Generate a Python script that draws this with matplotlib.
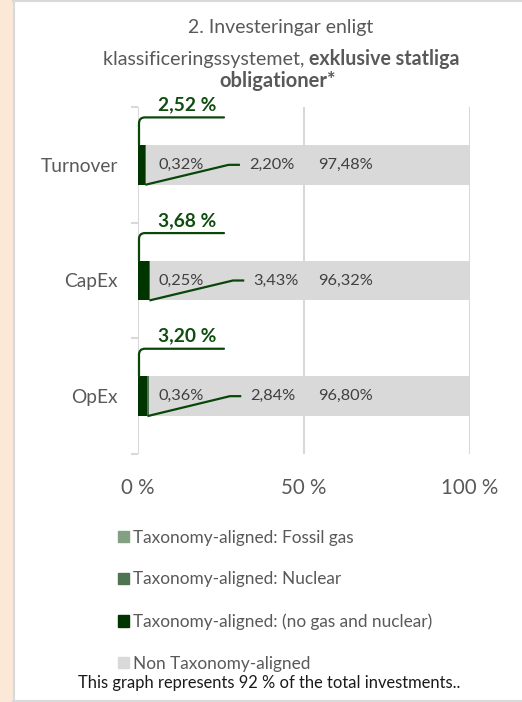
import matplotlib
matplotlib.use("Agg")
import matplotlib.pyplot as plt
from matplotlib.patches import Rectangle
from matplotlib.lines import Line2D

plt.rcParams["font.family"] = ["Lato", "DejaVu Sans"]

categories = ["Turnover", "CapEx", "OpEx"]
aligned_core = [2.20, 3.43, 2.84]      # Taxonomy-aligned (no gas and nuclear)
fossil_gas = [0.00, 0.00, 0.00]
nuclear = [0.32, 0.25, 0.36]
non_aligned = [97.48, 96.32, 96.80]
totals = [2.52, 3.68, 3.20]
xticks = [0, 50, 100]
xtick_labels = ["0 %", "50 %", "100 %"]

legend_labels = ["Taxonomy-aligned: Fossil gas", "Taxonomy-aligned: Nuclear",
                 "Taxonomy-aligned: (no gas and nuclear)", "Non Taxonomy-aligned"]
c_gas, c_nuc, c_core, c_non = "#84a083", "#4f7452", "#003500", "#d9d9d9"
line_green = "#0a460a"
grey_txt = "#595959"


def pct(v, sep=""):
    return f"{v:.2f}{sep}%".replace(".", ",")


W, H = 522, 702
fig = plt.figure(figsize=(W / 100, H / 100), dpi=100)

# page background: beige strip + white panel with grey border
fig.patches.append(Rectangle((0, 0), 13 / W, 1, transform=fig.transFigure,
                             facecolor="#fbe8d7", edgecolor="none", zorder=0))
fig.add_artist(Line2D([13.5 / W, 13.5 / W], [0, 1], color="#d9d9d9", lw=1.5))
fig.add_artist(Line2D([13 / W, 1], [1 - 1 / H, 1 - 1 / H], color="#d9d9d9", lw=1.5))
fig.add_artist(Line2D([13 / W, 1], [1 - 700.5 / H, 1 - 700.5 / H], color="#d9d9d9", lw=1.5))

ax = fig.add_axes([138 / W, 1 - 454 / H, 332 / W, 347 / H])
ax.set_xlim(0, 100)
ax.set_ylim(2.5, -0.5)

y = list(range(len(categories)))
h = 0.345
left = [0] * 3
for vals, col in [(aligned_core, c_core), (fossil_gas, c_gas), (nuclear, c_nuc), (non_aligned, c_non)]:
    ax.barh(y, vals, left=left, height=h, color=col, zorder=3)
    left = [a + b for a, b in zip(left, vals)]

# grid and axes styling
for xt in xticks:
    ax.axvline(xt, color="#d9d9d9", lw=1.5, zorder=1)
for s in ax.spines.values():
    s.set_visible(False)
ax.set_xticks(xticks)
ax.set_xticklabels(xtick_labels, color=grey_txt, fontsize=14.8)
ax.tick_params(axis="x", length=0, pad=17)
ax.set_yticks(y)
ax.set_yticklabels(categories, color=grey_txt, fontsize=13.8)
ax.tick_params(axis="y", length=0, pad=14.4)
ax.set_yticks([-0.5, 0.5, 1.5, 2.5], minor=True)
ax.tick_params(axis="y", which="minor", length=5, color="#d9d9d9", width=1.5)

leader_x = [27.3, 28.6, 27.7]
for i in y:
    top = i - h / 2
    bottom = i + h / 2
    # bracket + total label
    ax.annotate("", xy=(0.3, top), xytext=(25.9, i - 0.41),
                arrowprops=dict(arrowstyle="-", color=line_green, lw=1.6,
                                shrinkA=0, shrinkB=0,
                                connectionstyle="angle,angleA=0,angleB=90,rad=6"),
                zorder=5)
    ax.text(14.8, i - 0.52, pct(totals[i], " "), color="#0f4d0f",
            fontsize=13.8, fontweight="bold", ha="center", va="center", zorder=5)
    # leader line for core aligned value
    xd = leader_x[i]
    ax.plot([aligned_core[i], xd, xd + 3.4], [bottom, i, i], color=line_green,
            lw=1.6, zorder=5, solid_capstyle="butt")
    ax.text(13.1, i, pct(nuclear[i]), color="#404040",
            fontsize=11.8, ha="center", va="center", zorder=4)
    ax.text(xd + 12.9, i, pct(aligned_core[i]), color="#404040",
            fontsize=11.8, ha="center", va="center", zorder=4)
    ax.text(62.4, i, pct(non_aligned[i]), color="#404040",
            fontsize=11.8, ha="center", va="center", zorder=4)

# title
fig.text(281 / W, 1 - 28 / H, "2. Investeringar enligt", color=grey_txt,
         fontsize=14, ha="center", va="center")
t1 = fig.text(0, 1 - 59 / H, "klassificeringssystemet, ", color=grey_txt,
              fontsize=14.1, ha="left", va="center")
t2 = fig.text(0, 1 - 59 / H, "exklusive statliga", color=grey_txt,
              fontsize=14.1, fontweight="bold", ha="left", va="center")
fig.text(277.5 / W, 1 - 81 / H, "obligationer*", color=grey_txt,
         fontsize=14.5, fontweight="bold", ha="center", va="center")
r = fig.canvas.get_renderer()
w1 = t1.get_window_extent(r).width
w2 = t2.get_window_extent(r).width
x0 = 281 - (w1 + w2) / 2
t1.set_x(x0 / W)
t2.set_x((x0 + w1) / W)

# legend
handles = [Rectangle((0, 0), 1, 1, color=c) for c in (c_gas, c_nuc, c_core, c_non)]
fig.legend(handles, legend_labels, loc="upper left", bbox_to_anchor=(109 / W, 1 - 521 / H),
           frameon=False, fontsize=12.4, labelcolor=grey_txt, handlelength=0.65,
           handleheight=0.65, handletextpad=0.25, labelspacing=1.5, borderpad=0)

fig.text(269.5 / W, 1 - 683 / H, "This graph represents 92 % of the total investments..",
         color="#1a1a1a", fontsize=11.9, ha="center", va="center")

fig.savefig("out.png", dpi=100, facecolor="white")
